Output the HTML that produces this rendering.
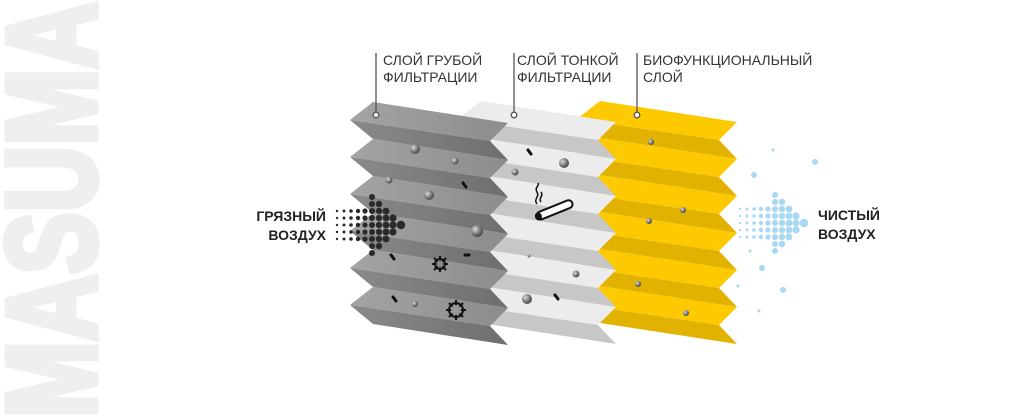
<!DOCTYPE html>
<html><head><meta charset="utf-8"><style>
html,body{margin:0;padding:0;background:#fff;}
svg{display:block;}
.lb{font-family:"Liberation Sans",sans-serif;font-size:14px;fill:#333;}
.bd{font-family:"Liberation Sans",sans-serif;font-size:14px;font-weight:bold;fill:#222;}
</style></head><body>
<svg width="1030" height="420" viewBox="0 0 1030 420" xmlns="http://www.w3.org/2000/svg">
<defs>
<radialGradient id="sp" cx="0.35" cy="0.35" r="0.7"><stop offset="0" stop-color="#ddd"/><stop offset="0.6" stop-color="#777"/><stop offset="1" stop-color="#444"/></radialGradient>
<linearGradient id="gU" x1="0" x2="1"><stop offset="0" stop-color="#a4a4a4"/><stop offset="1" stop-color="#8c8c8c"/></linearGradient>
<linearGradient id="gL" x1="0" x2="1"><stop offset="0" stop-color="#8a8a8a"/><stop offset="1" stop-color="#6e6e6e"/></linearGradient>
<g id="pg"><polygon points="0,0 135,21 117,39 -23,18" fill="url(#gU)"/><polygon points="-23,18 117,39 135,58 0,37" fill="url(#gL)"/></g>
<g id="pw"><polygon points="0,0 135,21 117,39 -23,18" fill="#ebeceb"/><polygon points="-23,18 117,39 135,58 0,37" fill="#c6c7c6"/></g>
<g id="py"><polygon points="0,0 137,21 119,39 -23,18" fill="#fdc900"/><polygon points="-23,18 119,39 137,58 0,37" fill="#e2b200"/></g>
<g id="ar">
<circle cx="0" cy="-14" r="1.2"/><circle cx="0" cy="-7" r="1.2"/><circle cx="0" cy="0" r="1.2"/><circle cx="0" cy="7" r="1.2"/><circle cx="0" cy="14" r="1.2"/>
<circle cx="7" cy="-14" r="1.5"/><circle cx="7" cy="-7" r="1.5"/><circle cx="7" cy="0" r="1.5"/><circle cx="7" cy="7" r="1.5"/><circle cx="7" cy="14" r="1.5"/>
<circle cx="14" cy="-14" r="1.8"/><circle cx="14" cy="-7" r="1.8"/><circle cx="14" cy="0" r="1.8"/><circle cx="14" cy="7" r="1.8"/><circle cx="14" cy="14" r="1.8"/>
<circle cx="21" cy="-14" r="2.2"/><circle cx="21" cy="-7" r="2.2"/><circle cx="21" cy="0" r="2.2"/><circle cx="21" cy="7" r="2.2"/><circle cx="21" cy="14" r="2.2"/>
<circle cx="28" cy="-14" r="2.6"/><circle cx="28" cy="-7" r="2.6"/><circle cx="28" cy="0" r="2.6"/><circle cx="28" cy="7" r="2.6"/><circle cx="28" cy="14" r="2.6"/>
<circle cx="35" cy="-28" r="3"/><circle cx="35" cy="-21" r="3"/><circle cx="35" cy="-14" r="3"/><circle cx="35" cy="-7" r="3"/><circle cx="35" cy="0" r="3"/><circle cx="35" cy="7" r="3"/><circle cx="35" cy="14" r="3"/><circle cx="35" cy="21" r="3"/><circle cx="35" cy="28" r="3"/>
<circle cx="42" cy="-21" r="3.2"/><circle cx="42" cy="-14" r="3.2"/><circle cx="42" cy="-7" r="3.2"/><circle cx="42" cy="0" r="3.2"/><circle cx="42" cy="7" r="3.2"/><circle cx="42" cy="14" r="3.2"/><circle cx="42" cy="21" r="3.2"/>
<circle cx="49" cy="-14" r="3.4"/><circle cx="49" cy="-7" r="3.4"/><circle cx="49" cy="0" r="3.4"/><circle cx="49" cy="7" r="3.4"/><circle cx="49" cy="14" r="3.4"/>
<circle cx="56" cy="-7" r="3.6"/><circle cx="56" cy="0" r="3.6"/><circle cx="56" cy="7" r="3.6"/>
<circle cx="64" cy="0" r="4.2"/>
</g>
</defs>
<text transform="translate(95,418) rotate(-90)" x="0" y="0" textLength="416" lengthAdjust="spacingAndGlyphs" font-family="Liberation Sans" font-weight="bold" font-size="126" fill="#efefef" stroke="#efefef" stroke-width="7" stroke-linejoin="miter">MASUMA</text>

<g transform="translate(600,101)"><use href="#py"/><use href="#py" y="37"/><use href="#py" y="74"/><use href="#py" y="111"/><use href="#py" y="148"/><use href="#py" y="185"/></g>
<g transform="translate(481,101)"><use href="#pw"/><use href="#pw" y="37"/><use href="#pw" y="74"/><use href="#pw" y="111"/><use href="#pw" y="148"/><use href="#pw" y="185"/></g>
<g transform="translate(373,102)"><use href="#pg"/><use href="#pg" y="37"/><use href="#pg" y="74"/><use href="#pg" y="111"/><use href="#pg" y="148"/><use href="#pg" y="185"/></g>

<g fill="url(#sp)">
<circle cx="415" cy="149" r="5"/><circle cx="455" cy="161" r="3.5"/><circle cx="389" cy="180" r="3.5"/><circle cx="429" cy="195" r="5"/><circle cx="477" cy="231" r="6"/><circle cx="415" cy="304" r="3"/>
<circle cx="564" cy="163" r="5"/><circle cx="515" cy="172" r="3.5"/><circle cx="576" cy="274" r="3.5"/><circle cx="527" cy="299" r="5"/><circle cx="529" cy="256" r="1.5"/>
<circle cx="651" cy="142" r="3"/><circle cx="683" cy="210" r="3"/><circle cx="649" cy="221" r="3"/><circle cx="638" cy="284" r="3"/><circle cx="686" cy="313" r="3"/>
</g>
<g stroke="#111" stroke-width="3" stroke-linecap="round" fill="none">
<path d="M463 183l3 4"/><path d="M391 255l3 4"/><path d="M393 297l3 4"/><path d="M465 255h4"/><path d="M528 150l3 4"/><path d="M555 295l3 4"/>
</g>
<g stroke="#111" stroke-width="2" fill="none">
<circle cx="440" cy="264" r="5"/><circle cx="456" cy="310" r="7"/>
<path d="M440 256v16M432 264h16M434 258l12 12M446 258l-12 12"/>
<path d="M456 300v20M446 310h20M449 303l14 14M463 303l-14 14"/>
</g>
<circle cx="440" cy="264" r="3.5" fill="#888"/><circle cx="456" cy="310" r="5" fill="#999"/>
<g fill="none" stroke="#111" stroke-width="1.5"><path d="M537 204c-4-5 3-7 0-12s3-6 1-9"/><path d="M541 202c-3-4 3-6 0-10"/></g>
<g transform="translate(537,217) rotate(-22)"><rect x="0" y="-4" width="38" height="8" rx="4" fill="#fff" stroke="#111" stroke-width="2"/><rect x="-2" y="-4" width="7" height="8" rx="4" fill="#111"/></g>

<g stroke="#555" stroke-width="1.3" fill="#fff">
<line x1="376" y1="53" x2="376" y2="112"/><circle cx="376" cy="115" r="2.8"/>
<line x1="514" y1="53" x2="514" y2="112"/><circle cx="514" cy="115" r="2.8"/>
<line x1="637" y1="53" x2="637" y2="112"/><circle cx="637" cy="115" r="2.8"/>
</g>
<text class="lb" x="383" y="65">СЛОЙ ГРУБОЙ</text><text class="lb" x="383" y="82">ФИЛЬТРАЦИИ</text>
<text class="lb" x="517" y="65">СЛОЙ ТОНКОЙ</text><text class="lb" x="517" y="82">ФИЛЬТРАЦИИ</text>
<text class="lb" x="643" y="65">БИОФУНКЦИОНАЛЬНЫЙ</text><text class="lb" x="643" y="82">СЛОЙ</text>

<text class="bd" x="326" y="221" text-anchor="end">ГРЯЗНЫЙ</text><text class="bd" x="326" y="240" text-anchor="end">ВОЗДУХ</text>
<text class="bd" x="818" y="220">ЧИСТЫЙ</text><text class="bd" x="818" y="239">ВОЗДУХ</text>

<g fill="#2a2a2a"><use href="#ar" transform="translate(337,225)"/></g>
<g fill="#a8d8f2"><use href="#ar" transform="translate(740,223)"/>
<circle cx="773" cy="150" r="1.5"/><circle cx="815" cy="162" r="3"/><circle cx="754" cy="175" r="3"/><circle cx="750" cy="251" r="1.5"/><circle cx="762" cy="268" r="3"/><circle cx="738" cy="286" r="1.5"/><circle cx="783" cy="290" r="3"/><circle cx="759" cy="311" r="1.5"/>
</g>
</svg>
</body></html>
